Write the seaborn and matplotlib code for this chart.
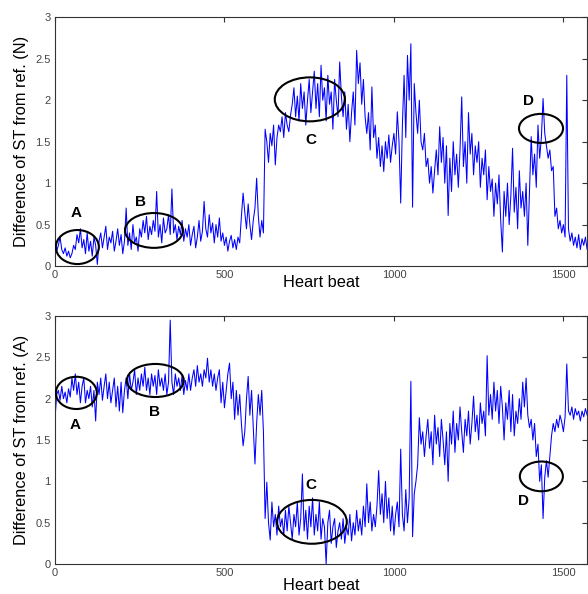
import numpy as np
import pandas as pd
import matplotlib
matplotlib.use("Agg")
import matplotlib.pyplot as plt
from matplotlib.patches import Ellipse
import seaborn as sns

# ---- data (one value every 5 heart beats) ----
beat_step = 5
st_diff_N = [
    0.30, 0.18, 0.25, 0.35, 0.20, 0.15, 0.22, 0.12, 0.18, 0.10,
    0.15, 0.25, 0.20, 0.38, 0.28, 0.45, 0.22, 0.32, 0.15, 0.40,
    0.18, 0.30, 0.12, 0.35, 0.25, 0.02, 0.30, 0.40, 0.22, 0.35,
    0.48, 0.20, 0.35, 0.28, 0.42, 0.18, 0.30, 0.45, 0.25, 0.38,
    0.15, 0.30, 0.70, 0.25, 0.40, 0.20, 0.50, 0.28, 0.35, 0.18,
    0.45, 0.35, 0.55, 0.40, 0.60, 0.32, 0.48, 0.38, 0.55, 0.42,
    0.90, 0.35, 0.50, 0.28, 0.58, 0.40, 0.45, 0.62, 0.38, 0.93,
    0.40, 0.50, 0.32, 0.48, 0.38, 0.55, 0.30, 0.45, 0.35, 0.50,
    0.25, 0.38, 0.48, 0.22, 0.35, 0.55, 0.30, 0.42, 0.78, 0.45,
    0.35, 0.62, 0.40, 0.52, 0.28, 0.50, 0.35, 0.58, 0.30, 0.40,
    0.25, 0.35, 0.18, 0.30, 0.37, 0.22, 0.32, 0.20, 0.35, 0.28,
    0.60, 0.88, 0.65, 0.45, 0.75, 0.50, 0.32, 0.55, 0.70, 1.06,
    0.60, 0.35, 0.55, 0.40, 1.65, 1.50, 1.25, 1.60, 1.45, 1.70,
    1.22, 1.55, 1.70, 1.62, 1.80, 1.55, 1.85, 1.70, 1.62, 1.82,
    1.95, 2.15, 1.80, 2.05, 1.75, 2.20, 1.90, 2.10, 1.70, 2.00,
    2.25, 1.85, 2.10, 2.35, 1.90, 2.20, 1.80, 2.42, 2.00, 2.15,
    1.75, 2.30, 1.95, 2.10, 1.65, 2.25, 2.00, 1.80, 2.46, 2.05,
    1.80, 2.10, 1.65, 1.95, 1.50, 1.85, 2.10, 1.70, 2.60, 2.20,
    2.45, 1.95, 2.25, 1.80, 1.60, 1.85, 1.40, 2.16, 1.55, 1.70,
    1.30, 1.55, 1.20, 1.45, 1.14, 1.50, 1.30, 1.58, 1.25, 1.45,
    1.60, 1.35, 1.86, 1.50, 0.76, 1.70, 2.30, 1.55, 2.54, 2.00,
    2.68, 0.71, 2.20, 1.85, 1.60, 2.00, 1.50, 1.40, 1.60, 1.20,
    1.30, 1.00, 1.20, 0.88, 1.15, 1.40, 1.10, 1.68, 1.25, 1.55,
    1.00, 1.45, 0.61, 1.30, 0.90, 1.50, 1.10, 1.35, 0.95, 1.40,
    2.04, 1.20, 1.50, 1.00, 1.85, 1.35, 1.60, 1.10, 1.45, 1.25,
    1.50, 0.95, 1.30, 1.10, 1.40, 0.80, 1.20, 0.90, 1.05, 0.60,
    1.00, 0.75, 1.10, 0.55, 0.17, 0.90, 0.60, 1.00, 0.50, 0.85,
    1.42, 0.65, 0.95, 0.45, 1.15, 0.70, 0.90, 0.60, 1.00, 0.25,
    0.90, 1.56, 1.10, 1.35, 0.95, 1.70, 1.30, 1.55, 2.02, 1.60,
    1.45, 1.30, 1.40, 1.15, 1.20, 0.60, 0.70, 0.45, 0.55, 0.40,
    0.50, 0.35, 2.30, 0.45, 0.30, 0.40, 0.25, 0.35, 0.22, 0.38,
    0.20, 0.33, 0.25, 0.35, 0.20,
]
st_diff_A = [
    1.75, 2.05, 2.10, 1.98, 2.15, 2.00, 2.08, 1.95, 2.12, 2.02,
    2.25, 2.10, 2.30, 2.05, 2.20, 1.95, 2.15, 2.25, 1.95, 2.10,
    2.00, 2.15, 1.90, 2.10, 1.73, 2.20, 2.05, 2.25, 1.98, 2.15,
    2.30, 2.00, 2.20, 1.95, 2.10, 2.25, 1.90, 2.15, 1.85, 2.20,
    1.83, 2.10, 2.25, 2.00, 2.30, 2.10, 2.20, 2.35, 2.05, 2.25,
    2.10, 2.30, 2.15, 2.38, 2.10, 2.25, 2.05, 2.30, 2.15, 2.28,
    2.05, 2.35, 2.15, 2.25, 2.10, 2.30, 2.05, 2.20, 2.95, 2.20,
    2.05, 2.30, 2.15, 2.25, 2.10, 2.28, 2.05, 2.22, 2.10, 2.30,
    2.10, 2.25, 2.35, 2.15, 2.40, 2.20, 2.30, 2.15, 2.35, 2.25,
    2.49, 2.20, 2.35, 2.15, 2.30, 2.10, 2.25, 2.35, 1.95, 2.20,
    1.89, 2.10, 2.30, 2.43, 2.00, 2.20, 1.75, 2.10, 1.80, 2.05,
    1.70, 1.43, 1.60, 2.00, 2.27, 1.80, 2.10, 1.65, 1.21, 1.70,
    2.05, 1.80, 2.10, 1.60, 0.55, 0.99, 0.50, 0.29, 0.75, 0.45,
    0.60, 0.35, 0.70, 0.45, 0.55, 0.35, 0.65, 0.40, 0.70, 0.50,
    0.30, 0.60, 0.45, 0.75, 0.35, 0.55, 1.09, 0.40, 0.65, 0.30,
    0.70, 0.45, 0.80, 0.35, 0.60, 0.40, 0.75, 0.30, 0.55, 0.45,
    0.00, 0.50, 0.65, 0.25, 0.45, 0.55, 0.20, 0.40, 0.50, 0.30,
    0.55, 0.25, 0.45, 0.35, 0.60, 0.28, 0.50, 0.35, 0.65, 0.40,
    0.55, 0.35, 0.70, 0.45, 0.97, 0.50, 0.75, 0.40, 0.60, 0.45,
    0.70, 1.13, 0.60, 0.85, 0.50, 1.00, 0.55, 0.80, 0.40, 0.70,
    0.35, 0.60, 0.75, 0.45, 1.39, 0.60, 0.40, 0.90, 0.50, 0.80,
    2.21, 0.33, 0.85, 1.00, 1.20, 1.77, 1.45, 1.60, 1.30, 1.55,
    1.75, 1.40, 1.60, 1.20, 1.80, 1.45, 1.65, 1.30, 1.75, 1.50,
    1.20, 1.60, 1.00, 1.70, 1.45, 1.85, 1.35, 1.70, 1.50, 1.90,
    1.60, 1.35, 1.75, 1.55, 1.85, 1.45, 1.70, 2.03, 1.60, 1.80,
    1.50, 1.95, 1.70, 1.85, 1.55, 2.52, 1.80, 2.05, 1.75, 2.20,
    1.85, 2.10, 1.70, 2.15, 1.90, 1.50, 1.95, 1.75, 2.10, 1.60,
    2.05, 1.55, 1.85, 1.70, 2.00, 1.75, 2.20, 1.90, 2.25, 1.80,
    1.65, 1.75, 1.50, 1.70, 1.30, 1.45, 1.00, 1.20, 0.55, 1.05,
    1.25, 1.05, 1.30, 1.55, 1.70, 1.60, 1.75, 1.65, 1.80, 1.72,
    1.60, 1.78, 2.42, 1.85, 1.80, 1.90, 1.75, 1.88, 1.80, 1.85,
    1.73, 1.85, 1.78, 1.88, 1.80,
]
x_ticks = [0, 500, 1000, 1500]
y_ticks = [0, 0.5, 1, 1.5, 2, 2.5, 3]
y_labels = ["Difference of ST from ref. (N)", "Difference of ST from ref. (A)"]
x_label = "Heart beat"
# region markers: label, ellipse centre (beat, value), ellipse size, label position
marks_N = [("A", 66, 0.23, 127, 0.41, 62, 0.64),
           ("B", 292, 0.43, 171, 0.42, 251, 0.77),
           ("C", 752, 2.01, 207, 0.53, 755, 1.52),
           ("D", 1434, 1.66, 130, 0.35, 1398, 1.99)]
marks_A = [("A", 63, 2.07, 121, 0.39, 59, 1.68),
           ("B", 296, 2.22, 168, 0.40, 295, 1.84),
           ("C", 758, 0.51, 206, 0.53, 755, 0.96),
           ("D", 1435, 1.06, 127, 0.36, 1381, 0.76)]

sns.set_theme(style="white")
plt.rcParams["font.family"] = ["Liberation Sans", "DejaVu Sans"]

fig = plt.figure(figsize=(5.88, 5.94), dpi=100)
ax_top = fig.add_axes([0.0935, 0.552, 0.905, 0.419])
ax_bot = fig.add_axes([0.0935, 0.0505, 0.905, 0.4175])

series = [st_diff_N, st_diff_A]
marks = [marks_N, marks_A]
xlab_y = [-0.036, -0.056]
for ax, vals, mk, ylab, xly in zip([ax_top, ax_bot], series, marks, y_labels, xlab_y):
    df = pd.DataFrame({"beat": np.arange(len(vals)) * beat_step, "value": vals})
    sns.lineplot(data=df, x="beat", y="value", ax=ax, color="#0000ff",
                 linewidth=0.75, estimator=None)
    ax.set_xlim(0, 1570)
    ax.set_ylim(0, 3)
    ax.set_xticks(x_ticks)
    ax.set_yticks(y_ticks)
    ax.set_yticklabels(["0", "0.5", "1", "1.5", "2", "2.5", "3"])
    ax.tick_params(direction="in", length=3.5, width=0.8, top=True, right=True,
                   labelsize=8, labelcolor="#444444", color="#333333", pad=3)
    for s in ax.spines.values():
        s.set_color("#333333")
        s.set_linewidth(0.8)
    ax.set_xlabel(x_label, fontsize=11.8, color="black")
    ax.set_ylabel(ylab, fontsize=11.8, color="black")
    ax.xaxis.set_label_coords(0.5, xly)
    ax.yaxis.set_label_coords(-0.049, 0.5)
    for lab, cx, cy, w, h, tx, ty in mk:
        ax.add_patch(Ellipse((cx, cy), w, h, fill=False, edgecolor="black",
                             linewidth=1.5, zorder=5))
        ax.text(tx, ty, lab, fontsize=11, fontweight="bold", color="black",
                ha="center", va="center", zorder=6)

fig.savefig("out.png", dpi=100)
